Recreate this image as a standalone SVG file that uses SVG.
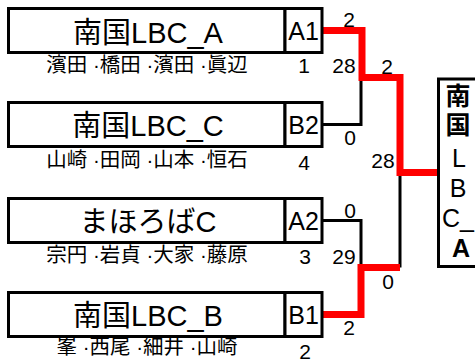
<svg xmlns="http://www.w3.org/2000/svg" width="475" height="363" viewBox="0 0 475 363">
<style>
text{font-family:"Liberation Sans","Noto Sans CJK JP",sans-serif;fill:#000}
.box{fill:#fff;stroke:#000;stroke-width:3}
.team{font-size:29px;text-anchor:middle}
.mem{font-size:20.5px;text-anchor:middle}
.seed{font-size:25px;text-anchor:middle}
.num{font-size:21px;text-anchor:middle}
.blk{fill:none;stroke:#000;stroke-width:3;stroke-linejoin:miter}
.red{fill:none;stroke:#f00;stroke-width:7;stroke-linejoin:miter}
.win{font-size:25px;text-anchor:middle}
</style>
<g id="connectors">
<path class="blk" d="M322,124.5 H361 V77.5"/>
<path class="blk" d="M322,220.5 H361 V267.5"/>
<path class="blk" d="M400,267.5 V172.5"/>
<path class="red" d="M322,30.5 H362 V77.5 H400 V172.5 H438.5"/>
<path class="red" d="M322,314.5 H361 V267.5 H400"/>
</g>
<g id="scores">
<text class="num" x="349" y="27">2</text>
<text class="num" x="344" y="73">28</text>
<text class="num" x="387" y="74">2</text>
<text class="num" x="350" y="145">0</text>
<text class="num" x="383" y="168">28</text>
<text class="num" x="350" y="218">0</text>
<text class="num" x="344" y="264">29</text>
<text class="num" x="388" y="289">0</text>
<text class="num" x="349" y="335">2</text>
</g>
<g id="team1">
<rect class="box" x="8.5" y="8.5" width="276.5" height="44"/>
<rect class="box" x="285" y="8.5" width="37" height="44"/>
<text class="team" x="148" y="42.5">南国LBC_A</text>
<text class="seed" x="303.5" y="39.5">A1</text>
<text class="mem" x="147" y="72">濱田 ·橋田 ·濱田 ·眞辺</text>
<text class="num" x="304" y="73">1</text>
</g>
<g id="team2">
<rect class="box" x="8.5" y="102.5" width="276.5" height="44"/>
<rect class="box" x="285" y="102.5" width="37" height="44"/>
<text class="team" x="148" y="136">南国LBC_C</text>
<text class="seed" x="303.5" y="133.5">B2</text>
<text class="mem" x="147" y="167">山崎 ·田岡 ·山本 ·恒石</text>
<text class="num" x="304" y="170">4</text>
</g>
<g id="team3">
<rect class="box" x="8.5" y="198.5" width="276.5" height="44"/>
<rect class="box" x="285" y="198.5" width="37" height="44"/>
<text class="team" x="148" y="232">まほろばC</text>
<text class="seed" x="303.5" y="229.5">A2</text>
<text class="mem" x="147" y="262">宗円 ·岩貞 ·大家 ·藤原</text>
<text class="num" x="305" y="264">3</text>
</g>
<g id="team4">
<rect class="box" x="8.5" y="292.5" width="276.5" height="44"/>
<rect class="box" x="285" y="292.5" width="37" height="44"/>
<text class="team" x="148" y="326">南国LBC_B</text>
<text class="seed" x="303.5" y="323.5">B1</text>
<text class="mem" x="147" y="354">峯 ·西尾 ·細井 ·山崎</text>
<text class="num" x="305" y="359">2</text>
</g>
<g id="winner">
<rect class="box" x="438.5" y="79" width="50" height="187.5"/>
<text class="win" x="458" y="105" font-weight="bold">南</text>
<text class="win" x="458" y="134" font-weight="bold">国</text>
<text class="win" x="459" y="167">L</text>
<text class="win" x="458" y="197">B</text>
<text class="win" x="458" y="227">C_</text>
<text class="win" x="461" y="257" font-weight="bold">A</text>
</g>
</svg>
